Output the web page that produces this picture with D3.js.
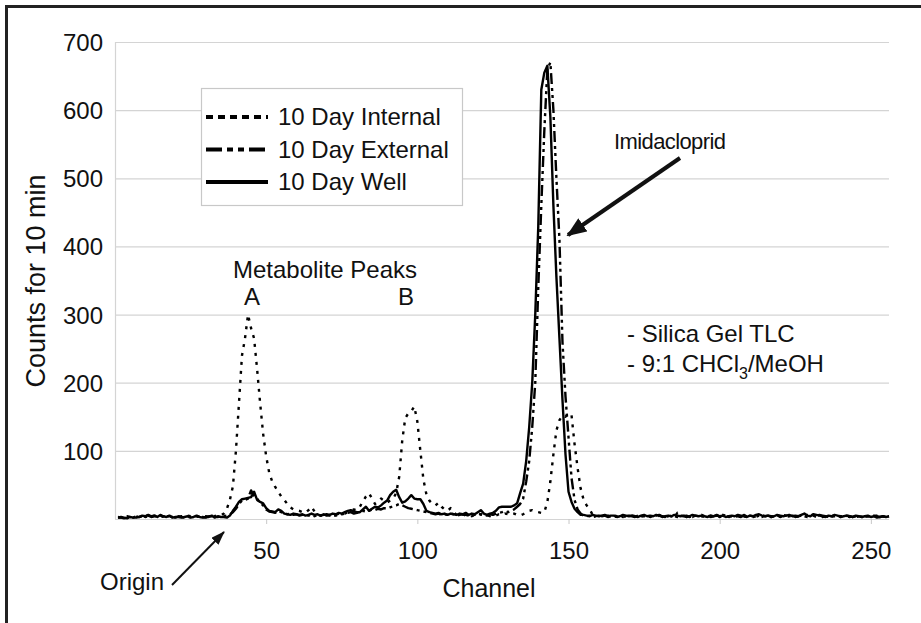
<!DOCTYPE html>
<html>
<head>
<meta charset="utf-8">
<script src="https://cdn.jsdelivr.net/npm/d3@7"></script>
<style>
body { margin: 0; background: #fff; }
svg text { font-family: "Liberation Sans", Arial, sans-serif; fill: #111; }
</style>
</head>
<body>
<svg id="chart"></svg>
<script>
const width = 921;
const height = 623;

// channel numbers 1..256
const channels = d3.range(1, 257);

// counts per channel
const internal = [
    3,2,3,4,3,2,3,4,5,3, 4,3,5,4,3,4,3,4,3,2, 3,4,3,5,4,3,4,3,5,4, 3,5,4,6,5,
    8,15,28,48,100,170,240,265,300,280, 265,220,170,125,92,68,55,47,40,33,
    28,22,17,14,13,12,10,9,13,18, 11,6,5,7,6,5,7,6,8,9,
    8,10,12,14,13,18,26,33,38,30, 22,25,30,27,24,27,30,38,62,115,
    148,155,158,165,143,100,58,36,27,22, 20,24,18,14,12,16,10,
    6,5,7,5,6,4,6,5,7,5, 6,4,6,5,7,6,8,7,9,8, 6,5,7,9,12,13,11,10,9,10,
    25,55,95,130,145,152,150,155,152,110,75,45,28,20,14,6,
    4,5,3,4,5,4,3,4,5,3, 4,3,5,4,3,4,5,3,4,4, 3,5,4,3,4,6,4,3,4,5,
    3,4,3,5,4,4,3,4,5,3, 4,3,4,5,3,4,3,5,4,3, 4,5,3,4,4,3,5,4,3,4,
    5,3,4,3,4,5,3,4,6,4, 3,4,5,3,4,3,4,5,4,3, 4,3,5,4,3,4,3,4,5,3,
    4,3,4,5,3,4,3,4
];
const external = [
    2,3,2,1,3,2,4,3,4,5, 5,3,4,4,5,3,4,4,3,2, 4,3,2,3,3,4,4,2,3,2, 4,4,3,3,4,
    4,5,7,10,15,22,27,28,30,42, 33,30,24,20,14,11,10,9,12,10, 8,7,8,6,7,
    5,6,7,5,6,4,6,5,7,5,6,4,5,6,7,
    8,9,10,8,9,10,12,11,12,14, 13,15,14,16,15,17,19,20,22,20, 18,16,15,14,13,12,11,10,9,8,
    7,8,6,7,6,8,7,5,6,7,6,5,7,6,8,7,6,5,7,6,
    8,9,10,12,10,12,14,18,22,30, 55,85,135,200,340,460,570,660,670,600,
    500,410,260,180,120,60,28,14,8,
    5,4,5,3,4,6,4,5,3,4, 5,4,6,3,4,5,4,3,5,4, 4,5,3,4,5,6,4,3,5,4,
    3,9,5,4,5,3,4,5,4,6, 4,5,3,4,5,4,6,5,3,4, 5,4,3,6,4,5,4,3,5,6,
    4,5,4,3,5,4,6,5,4,5, 3,4,5,4,6,8,5,4,6,5, 4,3,5,4,5,4,3,5,4,3,
    4,5,3,4,4,3,5,4,3,4, 3,4
];
const well = [
    2,2,1,2,3,2,2,3,5,4, 6,4,5,3,6,4,3,5,2,3, 3,2,3,4,2,3,5,3,2,3, 3,5,2,4,3,3,
    2,5,12,18,25,29,30,31,32,40, 28,25,23,16,12,11,10,14,12,8,
    7,6,8,7,6,7,5,6,8,6,7,5,6,7,6,8,7,9,8,
    10,12,13,11,10,10,14,18,12,15, 18,17,20,24,27,35,40,43,32,24, 26,30,35,30,29,29,22,12,10,9,
    8,9,7,8,6,8,7,6,8,7,9,6,8,7,10,13,8,6,8,9,12,17,18,18,18,18,20,23,
    38,52,85,135,200,300,430,630,655,665,590,460,355,265,175,95,40,25,15,10,6,
    6,5,4,6,5,4,5,6,4,5, 5,3,4,6,5,4,5,4,3,5, 6,4,5,4,6,5,3,4,5,4,
    6,5,4,5,3,4,6,5,4,5, 4,3,5,4,6,4,5,3,4,5, 4,6,5,4,3,5,4,6,7,5,
    4,5,3,4,6,5,4,5,6,4, 5,4,6,8,5,4,7,6,5,4, 3,5,4,6,5,3,4,5,4,3,
    5,4,3,4,5,3,4,2,3,4, 3,4
];

const seriesNames = ['10 Day Internal', '10 Day External', '10 Day Well'];
const seriesValues = [internal, external, well];
const dashes = ['3,6', '11,4,3,4,3,4', null];
const legendDashes = ['7,5', '16,5,6,5,6,5', null];

const yTicks = [100, 200, 300, 400, 500, 600, 700];
const yGrid = [0, 100, 200, 300, 400, 500, 600, 700];
const xTicks = [50, 100, 150, 200, 250];

const svg = d3.select('#chart')
    .attr('width', width)
    .attr('height', height);

svg.append('rect').attr('width', width).attr('height', height).attr('fill', '#fff');

// outer frame, runs off the right and bottom edges
svg.append('rect')
    .attr('x', 6.5).attr('y', 6.5)
    .attr('width', 1000).attr('height', 1000)
    .attr('fill', 'none').attr('stroke', '#222').attr('stroke-width', 3);

const x = d3.scaleLinear().domain([0, 256]).range([115, 889]);
const y = d3.scaleLinear().domain([0, 700]).range([519, 42]);

// grid
svg.append('g').selectAll('line').data(yGrid).join('line')
    .attr('x1', x(0)).attr('x2', x(256))
    .attr('y1', d => y(d) + 0.5).attr('y2', d => y(d) + 0.5)
    .attr('stroke', '#d4d4d4').attr('stroke-width', 1.2);

svg.append('line')
    .attr('x1', x(0) + 0.5).attr('x2', x(0) + 0.5)
    .attr('y1', y(700)).attr('y2', y(0))
    .attr('stroke', '#d4d4d4').attr('stroke-width', 1.2);

// y axis labels
svg.append('g').selectAll('text').data(yTicks).join('text')
    .attr('x', 103).attr('y', d => y(d) + 9)
    .attr('text-anchor', 'end')
    .attr('font-size', 24)
    .text(d => d);

// x axis
const xAxis = svg.append('g')
    .attr('transform', `translate(0, ${y(0)})`)
    .call(d3.axisBottom(x).tickValues(xTicks).tickSize(5).tickPadding(18));
xAxis.select('.domain').remove();
xAxis.selectAll('line').attr('stroke', '#c8c8c8');
xAxis.selectAll('text')
    .attr('font-size', 24)
    .attr('font-family', '"Liberation Sans", Arial, sans-serif')
    .attr('fill', '#111');

svg.append('text')
    .attr('x', 489).attr('y', 597)
    .attr('text-anchor', 'middle')
    .attr('font-size', 25)
    .text('Channel');

svg.append('text')
    .attr('transform', 'translate(45, 281) rotate(-90)')
    .attr('text-anchor', 'middle')
    .attr('font-size', 27)
    .text('Counts for 10 min');

// series
const line = d3.line()
    .x((d, i) => x(channels[i]))
    .y(d => y(d));

seriesValues.forEach((vals, i) => {
    svg.append('path')
        .datum(vals)
        .attr('d', line)
        .attr('fill', 'none')
        .attr('stroke', '#000')
        .attr('stroke-width', 2.4)
        .attr('stroke-linejoin', 'round')
        .attr('stroke-dasharray', dashes[i]);
});

// legend
const legend = svg.append('g');
legend.append('rect')
    .attr('x', 201.5).attr('y', 88.5)
    .attr('width', 261).attr('height', 117)
    .attr('fill', '#fff').attr('stroke', '#c8c8c8').attr('stroke-width', 1.2);

seriesNames.forEach((name, i) => {
    const ly = 117 + i * 32.5;
    legend.append('line')
        .attr('x1', 206).attr('x2', 268)
        .attr('y1', ly).attr('y2', ly)
        .attr('stroke', '#000').attr('stroke-width', 4)
        .attr('stroke-dasharray', legendDashes[i]);
    legend.append('text')
        .attr('x', 278).attr('y', ly + 8)
        .attr('font-size', 24)
        .text(name);
});

// annotations
const defs = svg.append('defs');
defs.append('marker')
    .attr('id', 'bighead')
    .attr('markerUnits', 'userSpaceOnUse')
    .attr('viewBox', '0 0 20 16')
    .attr('refX', 18).attr('refY', 8)
    .attr('markerWidth', 20).attr('markerHeight', 16)
    .attr('orient', 'auto')
    .append('path').attr('d', 'M0,0 L20,8 L0,16 Z').attr('fill', '#111');
defs.append('marker')
    .attr('id', 'smallhead')
    .attr('markerUnits', 'userSpaceOnUse')
    .attr('viewBox', '0 0 14 10')
    .attr('refX', 13).attr('refY', 5)
    .attr('markerWidth', 14).attr('markerHeight', 10)
    .attr('orient', 'auto')
    .append('path').attr('d', 'M0,0 L14,5 L0,10 Z').attr('fill', '#111');

svg.append('text').attr('x', 614).attr('y', 149)
    .attr('font-size', 22).attr('letter-spacing', -0.6)
    .text('Imidacloprid');
svg.append('line')
    .attr('x1', 680).attr('y1', 158)
    .attr('x2', 568).attr('y2', 235)
    .attr('stroke', '#111').attr('stroke-width', 4)
    .attr('marker-end', 'url(#bighead)');

svg.append('text').attr('x', 325).attr('y', 278).attr('text-anchor', 'middle').attr('font-size', 24).text('Metabolite Peaks');
svg.append('text').attr('x', 252).attr('y', 305).attr('text-anchor', 'middle').attr('font-size', 24).text('A');
svg.append('text').attr('x', 406).attr('y', 305).attr('text-anchor', 'middle').attr('font-size', 24).text('B');

svg.append('text').attr('x', 627).attr('y', 342).attr('font-size', 24).text('- Silica Gel TLC');
const sol = svg.append('text').attr('x', 627).attr('y', 372).attr('font-size', 24);
sol.append('tspan').text('- 9:1 CHCl');
sol.append('tspan').attr('font-size', 16).attr('dy', 7).text('3');
sol.append('tspan').attr('dy', -7).text('/MeOH');

svg.append('text').attr('x', 100).attr('y', 590).attr('font-size', 24).text('Origin');
svg.append('line')
    .attr('x1', 172).attr('y1', 585)
    .attr('x2', 224).attr('y2', 532)
    .attr('stroke', '#111').attr('stroke-width', 2)
    .attr('marker-end', 'url(#smallhead)');
</script>
</body>
</html>
